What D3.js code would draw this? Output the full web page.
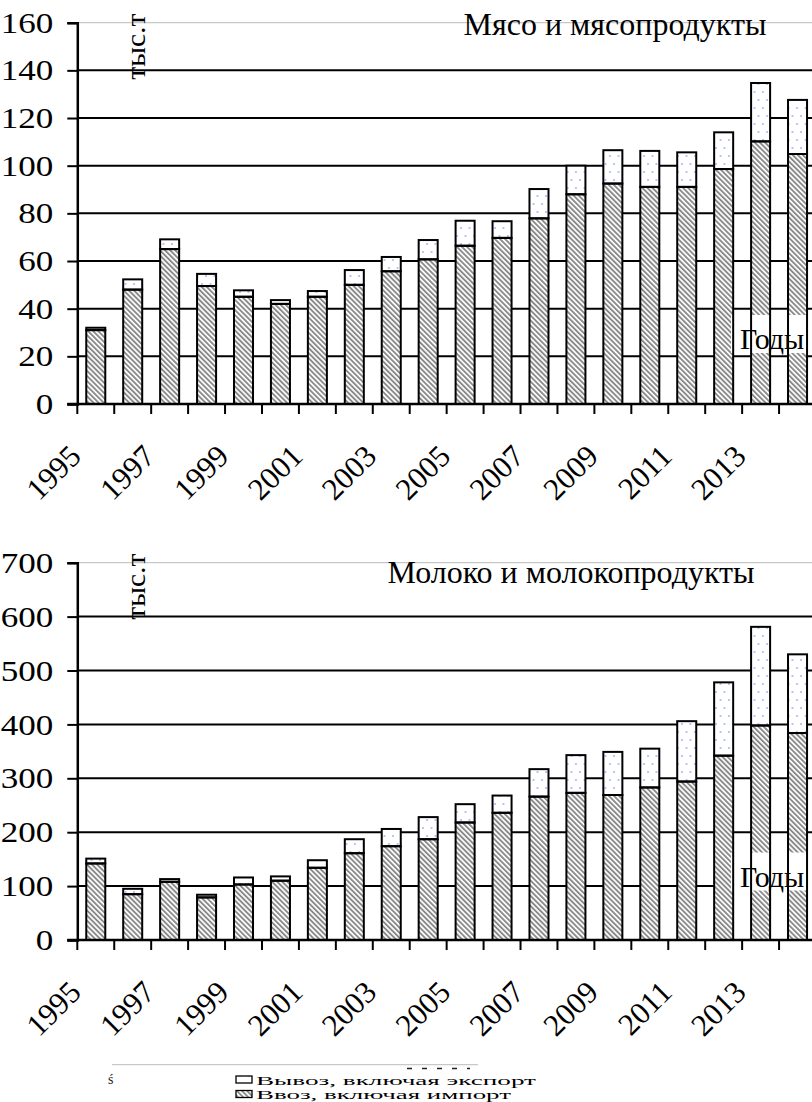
<!DOCTYPE html>
<html>
<head>
<meta charset="utf-8">
<script src="https://cdn.jsdelivr.net/npm/d3@7"></script>
<style>
html,body{margin:0;padding:0;background:#fff;}
svg, svg text{font-family:"Liberation Serif","Times New Roman",serif !important;}
svg{display:block;}
</style>
</head>
<body>
<svg id="chart" width="812" height="1102"></svg>
<script>
// ---- data ----
const years = [1995,1996,1997,1998,1999,2000,2001,2002,2003,2004,2005,2006,2007,2008,2009,2010,2011,2012,2013,2014];
const yearLabels = ["1995","1997","1999","2001","2003","2005","2007","2009","2011","2013"];
const meatImport = [31,48,65,49.5,45,42,45,50,55.7,60.7,66.4,69.7,77.9,88,92.5,91.1,91.1,98.6,110.2,104.9];
const meatExport = [1,4.3,4.1,5.1,2.7,1.6,2.4,6.2,6,8.1,10.5,7,12.3,12,14,15.1,14.5,15.4,24.5,22.7];
const milkImport = [142,85,108,79,103,110,134,161,174,187,218,236,266,273,269,283,294,342,398,384];
const milkExport = [9,10,5,5,13,8,14,26,32,41,34,32,51,70,80,72,112,136,183,146];
const meatTicks = [0,20,40,60,80,100,120,140,160];
const milkTicks = [0,100,200,300,400,500,600,700];
const meatTitle = "Мясо и мясопродукты";
const milkTitle = "Молоко и молокопродукты";
const unitLabel = "тыс.т";
const xTitle = "Годы";
const legendLabels = ["Вывоз, включая экспорт","Ввоз, включая импорт"];

const FONT = "Liberation Serif";
const svg = d3.select("#chart").style("font-family", FONT);
const defs = svg.append("defs");

// hatch pattern (import)
const hatch = defs.append("pattern").attr("id","hatch").attr("patternUnits","userSpaceOnUse")
  .attr("width",3.6).attr("height",3.6).attr("patternTransform","rotate(-45)");
hatch.append("rect").attr("width",3.6).attr("height",3.6).attr("fill","#fff");
hatch.append("rect").attr("width",1.9).attr("height",3.6).attr("fill","#8a8a8a");

// dotted pattern (export)
const dots = defs.append("pattern").attr("id","dots").attr("patternUnits","userSpaceOnUse")
  .attr("width",8.5).attr("height",16);
dots.append("rect").attr("width",8.5).attr("height",16).attr("fill","#fff");
dots.append("circle").attr("cx",2).attr("cy",4).attr("r",0.9).attr("fill","#9aa6ff");
dots.append("circle").attr("cx",6.5).attr("cy",12).attr("r",0.9).attr("fill","#9aa6ff");

const plotLeft = 77.3, plotRight = 816;

function drawChart(cfg){
  const g = svg.append("g");
  const x = d3.scaleBand().domain(years).range([plotLeft, plotRight])
    .paddingInner(0.485).paddingOuter(0.2425);
  const xb = d3.scaleBand().domain(years).range([plotLeft, plotRight]).padding(0);
  const y = d3.scaleLinear().domain([0, cfg.max]).range([cfg.bottom, cfg.top]);

  // top light border
  g.append("line").attr("x1",plotLeft).attr("x2",812).attr("y1",cfg.top).attr("y2",cfg.top)
    .attr("stroke","#c8c8c8").attr("stroke-width",1.2);

  // gridlines
  g.append("g").selectAll("line").data(cfg.ticks.filter(t=>t>0 && t<cfg.max)).join("line")
    .attr("x1",plotLeft).attr("x2",812).attr("y1",d=>y(d)).attr("y2",d=>y(d))
    .attr("stroke","#000").attr("stroke-width",2);

  const rows = years.map((yr,i)=>({yr, imp:cfg.imp[i], exp:cfg.exp[i]}));

  // bar fills
  const fills = g.append("g");
  fills.selectAll("rect.imp").data(rows).join("rect").attr("class","imp")
    .attr("x",d=>x(d.yr)).attr("width",x.bandwidth())
    .attr("y",d=>y(d.imp)).attr("height",d=>y(0)-y(d.imp))
    .attr("fill","url(#hatch)");
  fills.selectAll("rect.exp").data(rows).join("rect").attr("class","exp")
    .attr("x",d=>x(d.yr)).attr("width",x.bandwidth())
    .attr("y",d=>y(d.imp+d.exp)).attr("height",d=>y(d.imp)-y(d.imp+d.exp))
    .attr("fill","url(#dots)");

  // white box behind "Годы"
  g.append("rect").attr("x",731).attr("y",cfg.godyBase-34).attr("width",90).attr("height",38).attr("fill","#fff");

  // bar outlines
  const outl = g.append("g").attr("fill","none").attr("stroke","#000").attr("stroke-width",2);
  outl.selectAll("rect.imp").data(rows).join("rect")
    .attr("x",d=>x(d.yr)).attr("width",x.bandwidth())
    .attr("y",d=>y(d.imp)).attr("height",d=>y(0)-y(d.imp));
  outl.selectAll("rect.exp").data(rows).join("rect")
    .attr("x",d=>x(d.yr)).attr("width",x.bandwidth())
    .attr("y",d=>y(d.imp+d.exp)).attr("height",d=>y(d.imp)-y(d.imp+d.exp));

  // y axis
  const yAxis = d3.axisLeft(y).tickValues(cfg.ticks).tickSize(10).tickPadding(12).tickFormat(d3.format("d"));
  const ya = g.append("g").attr("transform",`translate(${plotLeft},0)`).call(yAxis)
    .attr("font-family", null).attr("font-size", null);
  ya.select(".domain").attr("stroke","#000").attr("stroke-width",2.5);
  ya.selectAll(".tick line").attr("stroke","#000").attr("stroke-width",2);
  ya.selectAll(".tick text").attr("x",0).attr("transform","translate(-24,0) scale(1.17,1)")
    .style("font-family",FONT).style("font-size","30px").attr("fill","#000");

  // x axis (ticks at category boundaries)
  const xa = g.append("g");
  xa.append("line").attr("x1",plotLeft-10).attr("x2",812).attr("y1",cfg.bottom).attr("y2",cfg.bottom)
    .attr("stroke","#000").attr("stroke-width",2.5);
  xa.selectAll("line.tk").data(years).join("line").attr("class","tk")
    .attr("x1",d=>xb(d)).attr("x2",d=>xb(d)).attr("y1",cfg.bottom).attr("y2",cfg.bottom+10)
    .attr("stroke","#000").attr("stroke-width",2);
  xa.selectAll("text").data(yearLabels).join("text")
    .attr("transform",d=>`translate(${xb(+d)+xb.bandwidth()/2-13},${cfg.bottom+54}) rotate(-45)`)
    .attr("text-anchor","end").style("font-family",FONT).style("font-size","31px").text(d=>d);

  // unit label
  g.append("text").attr("transform",`translate(145,${cfg.top+57}) rotate(-90)`)
    .attr("textLength",66).attr("lengthAdjust","spacingAndGlyphs")
    .style("font-family",FONT).style("font-size","28px").text(unitLabel);

  // title
  g.append("text").attr("x",cfg.titleX).attr("y",cfg.titleY).attr("text-anchor","middle")
    .style("font-family",FONT).style("font-size","32px").text(cfg.title);

  // Годы
  g.append("text").attr("x",740).attr("y",cfg.godyBase).style("font-family",FONT).style("font-size","30px").text(xTitle);
}

drawChart({top:22.7,bottom:404,max:160,ticks:meatTicks,imp:meatImport,exp:meatExport,
  title:meatTitle,titleX:615,titleY:35,godyBase:349});
drawChart({top:562.7,bottom:940,max:700,ticks:milkTicks,imp:milkImport,exp:milkExport,
  title:milkTitle,titleX:571,titleY:582.5,godyBase:886.5});

// legend
const lg = svg.append("g");
lg.append("line").attr("x1",112).attr("x2",478).attr("y1",1064.7).attr("y2",1064.7)
  .attr("stroke","#c8c8c8").attr("stroke-width",1.2);
lg.append("line").attr("x1",407).attr("x2",470).attr("y1",1068.5).attr("y2",1068.5)
  .attr("stroke","#222").attr("stroke-width",1.5).attr("stroke-dasharray","5,10");
lg.append("text").attr("x",108).attr("y",1084).style("font-family",FONT).style("font-size","14px").attr("fill","#222").text("ś");
const legFills = ["url(#dots)","url(#hatch)"];
legendLabels.forEach((t,i)=>{
  const yy = 1076 + i*14.5;
  lg.append("rect").attr("x",236).attr("y",yy).attr("width",16).attr("height",7)
    .attr("fill",legFills[i]).attr("stroke","#000").attr("stroke-width",1.3);
  lg.append("text").attr("x",256).attr("y",yy+8.5).style("font-family",FONT).style("font-size","13.5px")
    .attr("textLength", i===0?280:255).attr("lengthAdjust","spacingAndGlyphs").text(t);
});
</script>
</body>
</html>
